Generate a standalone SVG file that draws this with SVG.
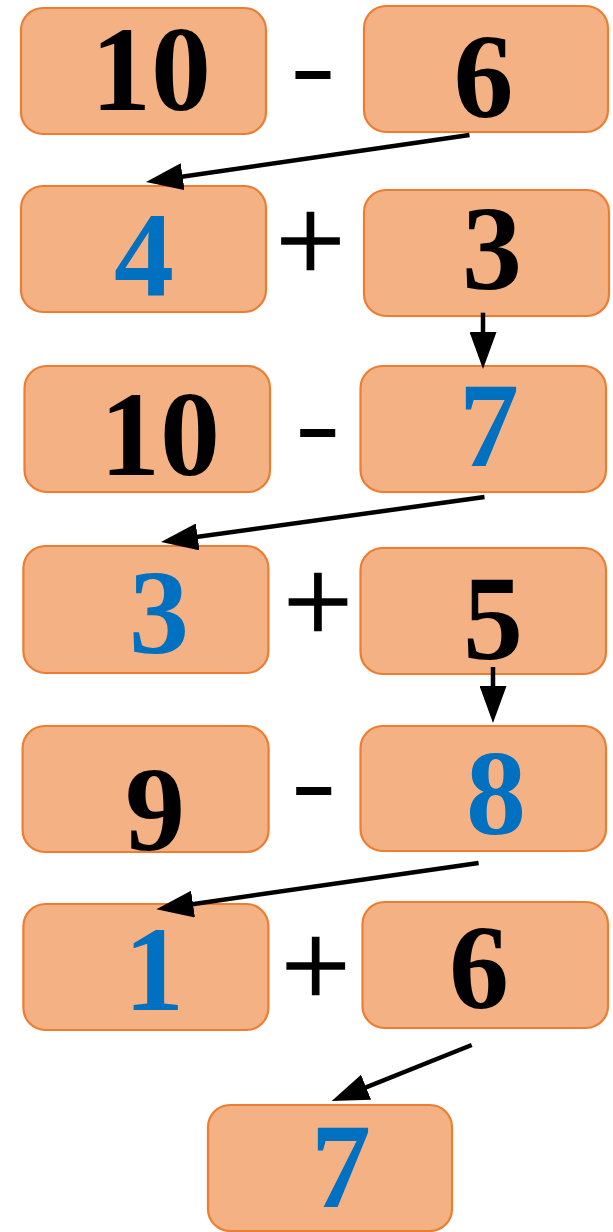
<svg xmlns="http://www.w3.org/2000/svg" width="613" height="1232" viewBox="0 0 613 1232">
<style>
.box{fill:#F4B183;stroke:#ED7D31;stroke-width:2.2}
.n{font-family:"Liberation Serif","Times New Roman",serif;font-weight:bold;font-size:120px;text-anchor:middle}
.k{fill:#000}
.b{fill:#0070C0}
.op{font-family:"Liberation Serif","Times New Roman",serif;text-anchor:middle;fill:#000}
.minus{font-size:135px;font-weight:bold}
.plus{font-size:123px;font-weight:normal;stroke:#000;stroke-width:1.5}
.arr{stroke:#000;stroke-width:4.5;fill:none;marker-end:url(#ah)}
</style>
<defs>
<marker id="ah" markerUnits="userSpaceOnUse" markerWidth="37" markerHeight="27" refX="27" refY="13.5" orient="auto" viewBox="0 0 37 27">
<path d="M0,0 L37,13.5 L0,27 z" fill="#000"/>
</marker>
</defs>
<rect width="613" height="1232" fill="#fff"/>
<g id="r1l"><rect class="box" x="21" y="8" width="245" height="126" rx="22"/><text class="n k" x="151" y="110">10</text></g>
<g id="r1op"><text class="op minus" transform="translate(313,97) scale(1,0.7)" x="0" y="0">-</text></g>
<g id="r1r"><rect class="box" x="364" y="6" width="244" height="126" rx="22"/><text class="n k" x="483.5" y="117">6</text></g>
<g id="r2l"><rect class="box" x="21" y="186" width="245" height="126" rx="22"/><text class="n b" x="144" y="296">4</text></g>
<g id="r2op"><text class="op plus" x="310.5" y="282">+</text></g>
<g id="r2r"><rect class="box" x="364" y="190" width="245" height="126" rx="22"/><text class="n k" x="492" y="289">3</text></g>
<g id="r3l"><rect class="box" x="24.5" y="366" width="245.5" height="126" rx="22"/><text class="n k" x="160" y="475">10</text></g>
<g id="r3op"><text class="op minus" transform="translate(317.7,454.5) scale(1,0.7)" x="0" y="0">-</text></g>
<g id="r3r"><rect class="box" x="360.5" y="366" width="245.5" height="126" rx="22"/><text class="n b" x="489" y="466">7</text></g>
<g id="r4l"><rect class="box" x="23.4" y="546" width="245" height="127" rx="22"/><text class="n b" x="159" y="653">3</text></g>
<g id="r4op"><text class="op plus" x="318" y="643">+</text></g>
<g id="r4r"><rect class="box" x="360.5" y="548" width="245.5" height="126" rx="22"/><text class="n k" x="493" y="659">5</text></g>
<g id="r5l"><rect class="box" x="22.6" y="726" width="246" height="126" rx="22"/><text class="n k" x="155" y="850">9</text></g>
<g id="r5op"><text class="op minus" transform="translate(313.7,812.5) scale(1,0.7)" x="0" y="0">-</text></g>
<g id="r5r"><rect class="box" x="360.5" y="726" width="245.5" height="125" rx="22"/><text class="n b" x="496" y="834">8</text></g>
<g id="r6l"><rect class="box" x="23.4" y="904" width="245" height="126" rx="22"/><text class="n b" x="154" y="1010">1</text></g>
<g id="r6op"><text class="op plus" x="315.7" y="1007">+</text></g>
<g id="r6r"><rect class="box" x="362.5" y="902" width="245.5" height="126" rx="22"/><text class="n k" x="479" y="1008">6</text></g>
<g id="res"><rect class="box" x="208" y="1105" width="244" height="126" rx="22"/><text class="n b" x="341" y="1207">7</text></g>
<g id="connectors">
<line class="arr" x1="469.5" y1="135" x2="155.9" y2="180.6"/>
<line class="arr" x1="483" y1="312.7" x2="483" y2="359"/>
<line class="arr" x1="484.5" y1="497" x2="170.9" y2="540.6"/>
<line class="arr" x1="493" y1="667" x2="493" y2="713"/>
<line class="arr" x1="478.6" y1="863" x2="166.3" y2="907.9"/>
<line class="arr" x1="471.7" y1="1045" x2="341" y2="1097.3"/>
</g>
</svg>
